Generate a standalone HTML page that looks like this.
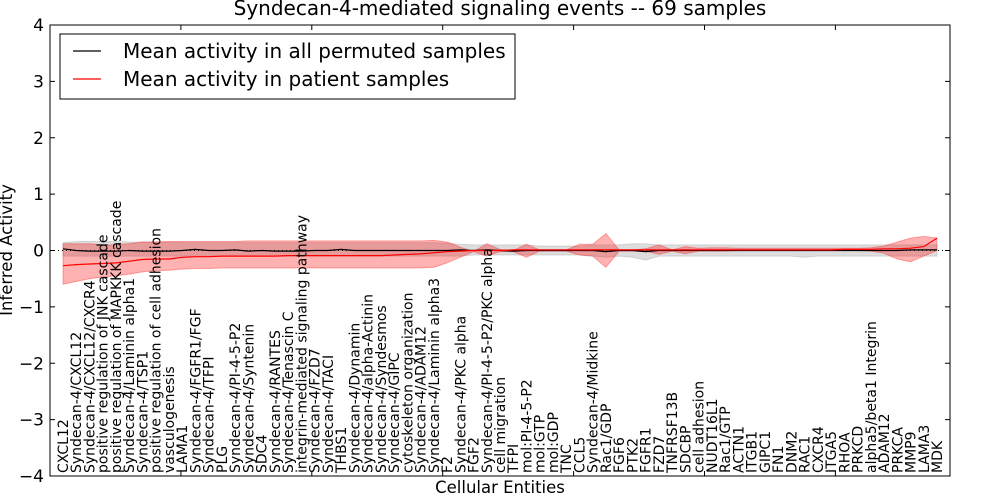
<!DOCTYPE html>
<html><head><meta charset="utf-8"><style>
html,body{margin:0;padding:0;background:#fff;}
svg{display:block;font-family:"DejaVu Sans","Liberation Sans",sans-serif;}
</style></head><body>
<svg id="chart" width="1000" height="500" xmlns="http://www.w3.org/2000/svg">
<text x="500" y="15" text-anchor="middle" font-size="20">Syndecan-4-mediated signaling events -- 69 samples</text>
<text x="500" y="493" text-anchor="middle" font-size="16.5">Cellular Entities</text>
<text transform="translate(12,250) rotate(-90)" text-anchor="middle" font-size="16.5">Inferred Activity</text>
<g id="bands"></g><g id="lines"></g><g id="axes"></g><g id="xlabels"></g>
<g>
<rect x="60" y="34" width="455" height="65" fill="#fff" stroke="#000" stroke-width="1"/>
<line x1="73" y1="51" x2="101" y2="51" stroke="#000" stroke-width="1.2"/>
<text x="123" y="58" font-size="20">Mean activity in all permuted samples</text>
<line x1="73" y1="79" x2="101" y2="79" stroke="#f00" stroke-width="1.2"/>
<text x="123" y="86" font-size="20">Mean activity in patient samples</text>
</g>
</svg>
<script>
const categories=["CXCL12","Syndecan-4/CXCL12","Syndecan-4/CXCL12/CXCR4","positive regulation of JNK cascade","positive regulation of MAPKKK cascade","Syndecan-4/Laminin alpha1","Syndecan-4/TSP1","positive regulation of cell adhesion","vasculogenesis","LAMA1","Syndecan-4/FGFR1/FGF","Syndecan-4/TFPI","PLG","Syndecan-4/PI-4-5-P2","Syndecan-4/Syntenin","SDC4","Syndecan-4/RANTES","Syndecan-4/Tenascin C","integrin-mediated signaling pathway","Syndecan-4/FZD7","Syndecan-4/TACI","THBS1","Syndecan-4/Dynamin","Syndecan-4/alpha-Actinin","Syndecan-4/Syndesmos","Syndecan-4/GIPC","cytoskeleton organization","Syndecan-4/ADAM12","Syndecan-4/Laminin alpha3","F2","Syndecan-4/PKC alpha","FGF2","Syndecan-4/PI-4-5-P2/PKC alpha","cell migration","TFPI","mol:PI-4-5-P2","mol:GTP","mol:GDP","TNC","CCL5","Syndecan-4/Midkine","Rac1/GDP","FGF6","PTK2","FGFR1","FZD7","TNFRSF13B","SDCBP","cell adhesion","NUDT16L1","Rac1/GTP","ACTN1","ITGB1","GIPC1","FN1","DNM2","RAC1","CXCR4","ITGA5","RHOA","PRKCD","alpha5/beta1 Integrin","ADAM12","PRKCA","MMP9","LAMA3","MDK"];
const patientMean=[-0.27,-0.25,-0.24,-0.23,-0.22,-0.19,-0.16,-0.15,-0.15,-0.12,-0.11,-0.11,-0.1,-0.1,-0.1,-0.1,-0.1,-0.09,-0.09,-0.09,-0.09,-0.09,-0.09,-0.09,-0.09,-0.08,-0.07,-0.06,-0.04,-0.02,-0.01,0,0,0,0.01,0.01,0.01,0.01,0.01,0.01,0.01,0.01,0.01,0.01,0.01,0.01,0.01,0.01,0.01,0.01,0.01,0.01,0.01,0.01,0.01,0.01,0.01,0.01,0.01,0.02,0.02,0.02,0.03,0.03,0.04,0.07,0.22];
const patientUpper=[0.12,0.12,0.12,0.1,0.1,0.12,0.15,0.15,0.16,0.16,0.16,0.16,0.16,0.16,0.17,0.17,0.17,0.17,0.17,0.17,0.17,0.17,0.17,0.17,0.17,0.17,0.17,0.17,0.18,0.15,0.06,-0.02,0.12,0.02,0,0.11,0.01,0.01,0.01,0.11,0.11,0.3,0.01,0.01,0.03,0.1,0.01,0.07,0.04,0.05,0.05,0.04,0.04,0.04,0.04,0.04,0.04,0.04,0.04,0.04,0.04,0.05,0.08,0.15,0.22,0.25,0.22,0.4];
const patientLower=[-0.6,-0.55,-0.5,-0.47,-0.45,-0.42,-0.38,-0.36,-0.35,-0.33,-0.32,-0.32,-0.31,-0.31,-0.31,-0.31,-0.31,-0.31,-0.31,-0.31,-0.31,-0.31,-0.31,-0.31,-0.31,-0.31,-0.31,-0.31,-0.3,-0.22,-0.12,-0.02,-0.1,-0.02,-0.02,-0.12,-0.01,-0.01,-0.01,-0.08,-0.1,-0.3,-0.01,-0.01,-0.01,-0.07,-0.01,-0.06,-0.01,-0.01,-0.01,0,0,0,0,0,0,0,0,0,0,-0.01,-0.05,-0.15,-0.2,-0.1,0];
const permMean=[0.03,0,-0.01,-0.01,-0.01,0,-0.01,-0.01,-0.01,0,0.02,0,0,0.01,-0.01,0,-0.01,-0.01,-0.01,0,0,0.02,0,0,0,0,0,0,0,0,0.01,0,0.01,0,-0.01,0,0,0,0,0,0,-0.02,0,0,-0.02,0,0,0,0,0,0,0,0,0,0,0,0,0,0,0,0,0,0,0,0.01,0.01,0.01];
const permUpper=[0.14,0.16,0.16,0.16,0.16,0.15,0.15,0.15,0.15,0.14,0.14,0.14,0.14,0.14,0.14,0.14,0.14,0.14,0.14,0.14,0.14,0.14,0.14,0.14,0.14,0.14,0.14,0.14,0.14,0.13,0.11,0.1,0.1,0.1,0.1,0.1,0.08,0.08,0.08,0.08,0.1,0.1,0.1,0.12,0.12,0.1,0.1,0.1,0.1,0.1,0.1,0.1,0.1,0.1,0.1,0.1,0.1,0.1,0.1,0.1,0.1,0.1,0.1,0.1,0.1,0.1,0.1];
const permLower=[-0.1,-0.1,-0.1,-0.1,-0.1,-0.1,-0.1,-0.1,-0.1,-0.1,-0.1,-0.1,-0.1,-0.1,-0.1,-0.1,-0.1,-0.1,-0.1,-0.1,-0.1,-0.1,-0.1,-0.1,-0.1,-0.1,-0.1,-0.1,-0.1,-0.1,-0.1,-0.08,-0.08,-0.08,-0.08,-0.08,-0.08,-0.08,-0.08,-0.08,-0.1,-0.12,-0.1,-0.12,-0.17,-0.1,-0.1,-0.1,-0.1,-0.1,-0.1,-0.1,-0.1,-0.1,-0.1,-0.1,-0.12,-0.1,-0.1,-0.1,-0.1,-0.1,-0.1,-0.1,-0.1,-0.1,-0.1];
const yTicks=[4,3,2,1,0,-1,-2,-3,-4];
const yTickLabels=["4","3","2","1","0","\u22121","\u22122","\u22123","\u22124"];

const NS="http://www.w3.org/2000/svg";
const L=50,R=950,T=25,B=476;
const n=categories.length;
const x=i=>63+i*(874/(n-1));
const y=v=>T+(4-v)*(B-T)/8;
function mk(tag,attrs,parent){const e=document.createElementNS(NS,tag);for(const k in attrs)e.setAttribute(k,attrs[k]);document.getElementById(parent).appendChild(e);return e;}
function band(up,lo){let d="M";for(let i=0;i<n;i++)d+=x(i).toFixed(1)+","+y(up[i]).toFixed(1)+" L";for(let i=n-1;i>=0;i--)d+=x(i).toFixed(1)+","+y(lo[i]).toFixed(1)+(i>0?" L":"");return d+"Z";}
function line(arr){return "M"+arr.map((v,i)=>x(i).toFixed(1)+","+y(v).toFixed(1)).join(" L");}
const gb=mk("path",{d:band(permUpper,permLower),fill:"#bbbbbb","fill-opacity":"0.5",stroke:"#aaaaaa","stroke-opacity":"0.4"},"bands");


const rb=mk("path",{d:band(patientUpper,patientLower),fill:"#ff0000","fill-opacity":"0.3",stroke:"#ff0000","stroke-opacity":"0.3"},"bands");


const zl=mk("line",{x1:L,x2:R,y1:y(0),y2:y(0),stroke:"#000","stroke-dasharray":"1,3","stroke-width":"1"},"lines");


const bl=mk("path",{d:line(permMean),fill:"none",stroke:"#000","stroke-width":"1.2"},"lines");


const rl=mk("path",{d:line(patientMean),fill:"none",stroke:"#f00","stroke-width":"1.2"},"lines");


const fr=mk("rect",{x:L,y:T,width:R-L,height:B-T,fill:"none",stroke:"#000","stroke-width":"1"},"axes");


yTicks.forEach((v,k)=>{
  mk("line",{x1:L,x2:L+5,y1:y(v),y2:y(v),stroke:"#000"},"axes");
  mk("line",{x1:R,x2:R-5,y1:y(v),y2:y(v),stroke:"#000"},"axes");
  const t=mk("text",{x:L-6,y:y(v)+6,"text-anchor":"end","font-size":"17"},"axes");
  
  
  t.textContent=yTickLabels[k];
});
for(let k=1;k<7;k++){const xx=L+k*130.9;mk("line",{x1:xx,x2:xx,y1:T,y2:T+5,stroke:"#000"},"axes");mk("line",{x1:xx,x2:xx,y1:B,y2:B-5,stroke:"#000"},"axes");}
categories.forEach((c,i)=>{
  const t=mk("text",{transform:"translate("+(x(i)+5).toFixed(1)+",473) rotate(-90)","font-size":"14"},"xlabels");
  
  
  t.textContent=c;
});
</script>
</body></html>
